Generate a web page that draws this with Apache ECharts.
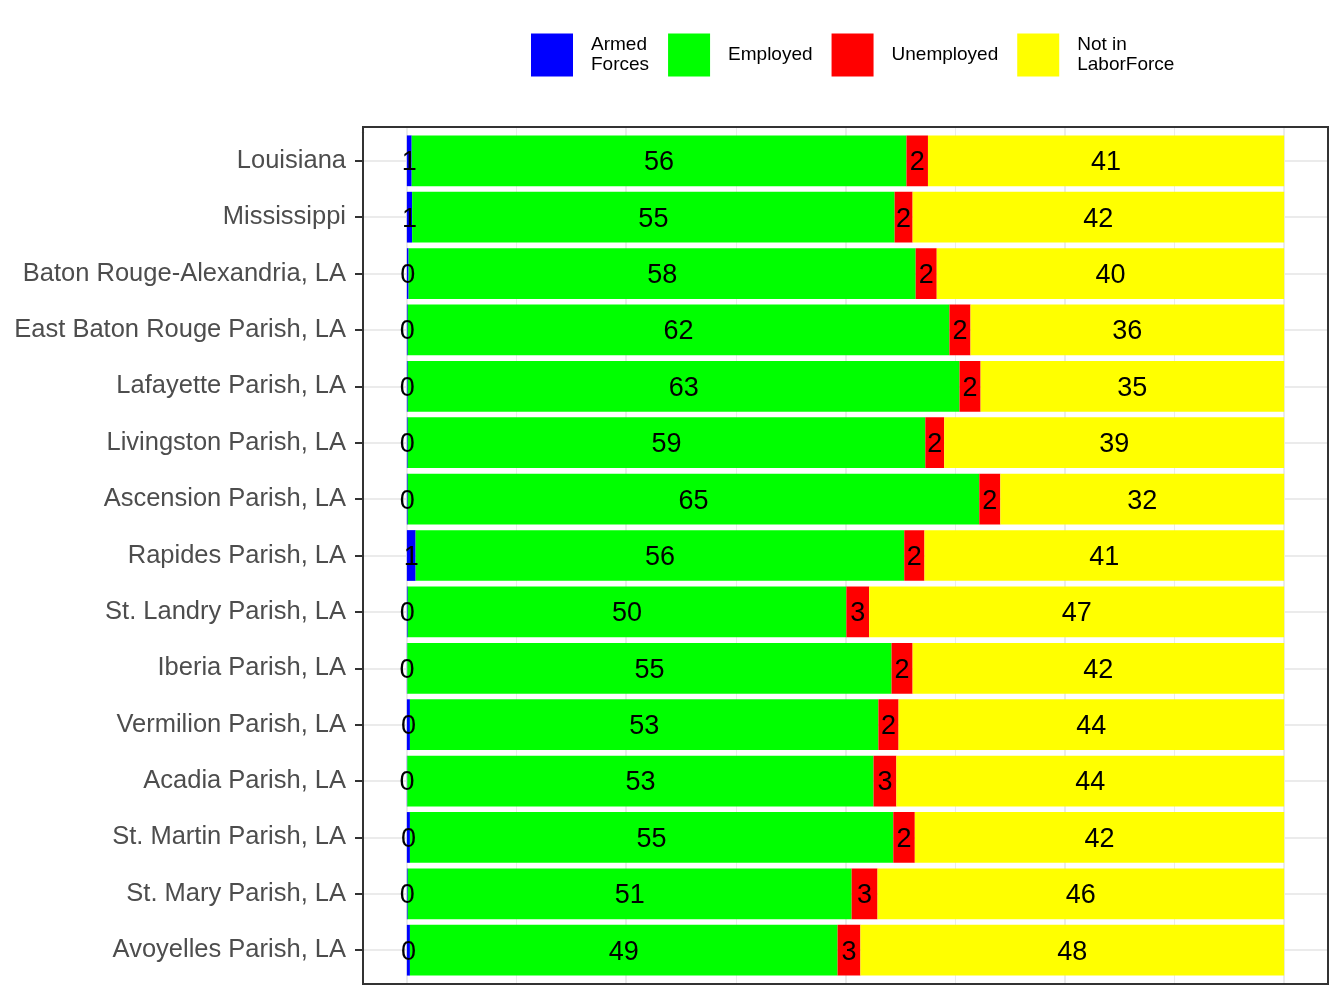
<!DOCTYPE html>
<html>
<head>
<meta charset="utf-8">
<script src="https://cdn.jsdelivr.net/npm/echarts@6/dist/echarts.min.js"></script>
<style>
  html, body { margin: 0; padding: 0; background: #fff; }
  #chart { width: 1344px; height: 1008px; }
</style>
</head>
<body>
<div id="chart"></div>
<script>
// areas, top to bottom
const categories = [
  'Louisiana', 'Mississippi', 'Baton Rouge-Alexandria, LA', 'East Baton Rouge Parish, LA',
  'Lafayette Parish, LA', 'Livingston Parish, LA', 'Ascension Parish, LA', 'Rapides Parish, LA',
  'St. Landry Parish, LA', 'Iberia Parish, LA', 'Vermilion Parish, LA', 'Acadia Parish, LA',
  'St. Martin Parish, LA', 'St. Mary Parish, LA', 'Avoyelles Parish, LA'
]
// percent of population 16+
const armedForces = [0.55, 0.6, 0.2, 0.1, 0.1, 0.1, 0.1, 1.0, 0.1, 0.05, 0.35, 0.05, 0.35, 0.1, 0.35]
const employed    = [56.4, 55.0, 57.8, 61.75, 62.9, 59.0, 65.15, 55.7, 50.0, 55.2, 53.4, 53.15, 55.1, 50.6, 48.75]
const unemployed  = [2.45, 2.05, 2.4, 2.4, 2.4, 2.15, 2.4, 2.3, 2.6, 2.4, 2.3, 2.6, 2.45, 2.95, 2.6]
const notInLabor  = [40.6, 42.35, 39.6, 35.75, 34.6, 38.75, 32.35, 41.0, 47.3, 42.35, 43.95, 44.2, 42.1, 46.35, 48.3]

const seriesNames = ['Armed Forces', 'Employed', 'Unemployed', 'Not in LaborForce']
const legendText = { 'Armed Forces': 'Armed\nForces', 'Not in LaborForce': 'Not in\nLaborForce' }
const colors = ['#0000FF', '#00FF00', '#FF0000', '#FFFF00']
const values = [armedForces, employed, unemployed, notInLabor]

const FONT = 'Liberation Sans, Arial, sans-serif'

let series = seriesNames.map((name, i) => ({
  name: name,
  type: 'bar',
  stack: 'total',
  xAxisIndex: 0,
  yAxisIndex: 0,
  barWidth: '90%',
  itemStyle: { color: colors[i] },
  label: {
    show: true,
    position: 'inside',
    offset: [0, 2],
    color: '#000',
    fontSize: 27,
    fontFamily: FONT,
    formatter: p => Math.round(p.value)
  },
  emphasis: { disabled: true },
  data: values[i]
}))

// horizontal grid lines at category centres (like ggplot), under the bars
series[0].markLine = {
  silent: true,
  z: 1,
  symbol: 'none',
  label: { show: false },
  lineStyle: { color: '#EBEBEB', width: 2, type: 'solid' },
  data: categories.map(c => ({ yAxis: c }))
}

let myChart = echarts.init(document.getElementById('chart'))
myChart.setOption({
  animation: false,
  textStyle: { fontFamily: FONT },
  legend: {
    left: 526,
    top: 28,
    icon: 'rect',
    itemWidth: 42,
    itemHeight: 43,
    itemGap: 19,
    data: seriesNames,
    formatter: n => legendText[n] || n,
    textStyle: { fontSize: 19, color: '#000', lineHeight: 20, padding: [4, 0, 0, 13] }
  },
  grid: [
    // bars
    { left: 363, right: 16, top: 132.6, bottom: 29.6, outerBoundsMode: 'none' },
    // vertical grid lines, full panel height
    { left: 406.9, right: 59.9, top: 127, bottom: 24, outerBoundsMode: 'none' },
    // panel border
    { left: 363, right: 16, top: 127, bottom: 24, show: true, borderColor: '#333333', borderWidth: 2,
      backgroundColor: 'transparent', outerBoundsMode: 'none', z: 5 }
  ],
  xAxis: [
    { gridIndex: 0, type: 'value', min: -5, max: 105, show: false },
    {
      gridIndex: 1, type: 'value', min: 0, max: 100, interval: 25,
      axisLabel: { show: false }, axisTick: { show: false }, axisLine: { show: false },
      splitLine: { show: true, lineStyle: { color: '#EBEBEB', width: 2 } },
      minorTick: { show: false, splitNumber: 2 },
      minorSplitLine: { show: true, lineStyle: { color: '#EBEBEB', width: 1 } }
    },
    { gridIndex: 2, type: 'value', min: 0, max: 1, show: false }
  ],
  yAxis: [
    {
      gridIndex: 0,
      type: 'category',
      inverse: true,
      data: categories,
      axisLine: { show: true, onZero: false, lineStyle: { color: '#333333', width: 2 } },
      axisTick: { show: true, alignWithLabel: true, length: 8, lineStyle: { color: '#333333', width: 2 } },
      axisLabel: { color: '#4D4D4D', fontSize: 25.5, margin: 17, padding: [3, 0, 0, 0], fontFamily: FONT },
      splitLine: { show: false }
    },
    { gridIndex: 1, type: 'value', show: false, splitLine: { show: false } },
    { gridIndex: 2, type: 'value', show: false, splitLine: { show: false } }
  ],
  series: series
})
</script>
</body>
</html>
